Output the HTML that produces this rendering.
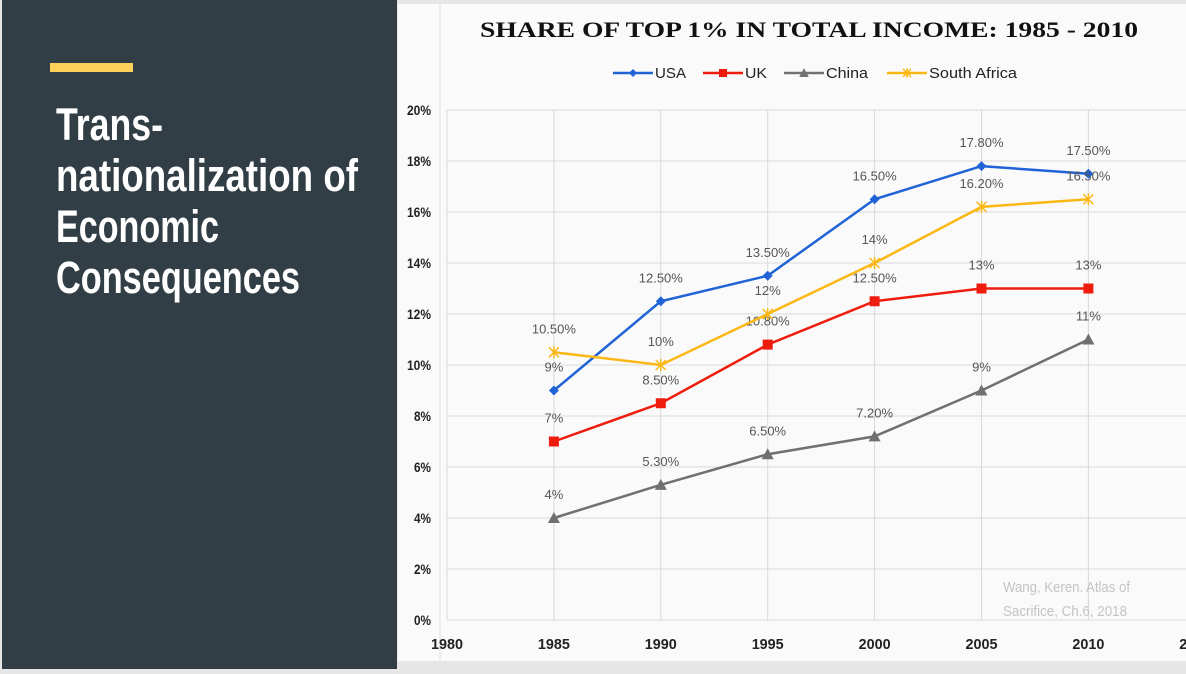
<!DOCTYPE html>
<html><head><meta charset="utf-8"><style>
html,body{margin:0;padding:0;width:1186px;height:669px;overflow:hidden;background:#e6e6e6;font-family:"Liberation Sans",sans-serif}
#left{position:absolute;left:2px;top:0;width:395px;height:669px;background:#323e46}
#chart{position:absolute;left:398px;top:0}
</style></head><body>
<div id="left">
<svg width="395" height="669">
<rect x="48" y="63" width="83" height="9" fill="#fdd05a"/>
<g font-family="Liberation Sans Narrow, Liberation Sans, sans-serif" font-weight="bold" font-size="45" fill="#fff">
<text x="54" y="140" textLength="107" lengthAdjust="spacingAndGlyphs">Trans-</text>
<text x="54" y="191" textLength="302" lengthAdjust="spacingAndGlyphs">nationalization of</text>
<text x="54" y="242" textLength="163" lengthAdjust="spacingAndGlyphs">Economic</text>
<text x="54" y="293" textLength="244" lengthAdjust="spacingAndGlyphs">Consequences</text>
</g></svg></div>
<svg id="chart" width="788" height="669"></svg>
<script>
const years=[1985,1990,1995,2000,2005,2010];
const usa=[9,12.5,13.5,16.5,17.8,17.5];
const uk=[7,8.5,10.8,12.5,13,13];
const china=[4,5.3,6.5,7.2,9,11];
const southAfrica=[10.5,10,12,14,16.2,16.5];
const seriesNames=["USA","UK","China","South Africa"];
const yTicks=[0,2,4,6,8,10,12,14,16,18,20];
const xTicks=[1980,1985,1990,1995,2000,2005,2010,2015];

const NS="http://www.w3.org/2000/svg";
const svg=document.getElementById('chart');
const OX=398;
const NARROW='Liberation Sans Narrow, Liberation Sans, sans-serif';
function X(yr){return 447-OX+(yr-1980)*21.38;}
function Y(v){return 620-v*25.5;}
function el(t,a,p){const e=document.createElementNS(NS,t);for(const k in a)e.setAttribute(k,a[k]);(p||svg).appendChild(e);return e;}
const bg=el('rect',{x:0,y:4,width:788,height:657,fill:'#fafafa'});


el('line',{x1:42,y1:4,x2:42,y2:661,stroke:'#e0e0e0'});
const title=el('text',{x:82,y:37,'font-family':'Liberation Serif, serif','font-weight':'bold','font-size':22,fill:'#111',textLength:658,lengthAdjust:'spacingAndGlyphs'});
title.textContent='SHARE OF TOP 1% IN TOTAL INCOME: 1985 - 2010';


yTicks.forEach(t=>{
  const l=el('line',{x1:X(1980),x2:788,y1:Y(t),y2:Y(t),stroke:'#d9d9d9','stroke-width':1});
  
  
  const tx=el('text',{x:33,y:Y(t)+5,'text-anchor':'end','font-size':14,'font-family':NARROW,'font-weight':'bold',fill:'#222',textLength:String(t).length*7+10,lengthAdjust:'spacingAndGlyphs'});
  tx.textContent=t+'%';
  
  
});
xTicks.forEach(t=>{
  const l=el('line',{x1:X(t),x2:X(t),y1:Y(20),y2:Y(0),stroke:'#d9d9d9','stroke-width':1});
  
  
  const tx=el('text',{x:X(t),y:649,'text-anchor':'middle','font-size':15,'font-family':NARROW,'font-weight':'bold',fill:'#222',textLength:32,lengthAdjust:'spacingAndGlyphs'});
  tx.textContent=t;
  
  
});
const colors=['#1f63d6','#ee1c0c','#707070','#fbb815'];
const data=[usa,uk,china,southAfrica];
function marker(i,x,y,g,s){
  s=s||1;const c=colors[i];
  if(i==0)return el('polygon',{points:`${x},${y-5*s} ${x+5*s},${y} ${x},${y+5*s} ${x-5*s},${y}`,fill:c},g);
  if(i==1)return el('rect',{x:x-5*s,y:y-5*s,width:10*s,height:10*s,fill:c},g);
  if(i==2)return el('polygon',{points:`${x},${y-6*s} ${x+6*s},${y+5*s} ${x-6*s},${y+5*s}`,fill:c},g);
  return el('path',{d:`M${x-5*s} ${y-5*s}L${x+5*s} ${y+5*s}M${x+5*s} ${y-5*s}L${x-5*s} ${y+5*s}M${x} ${y-6*s}L${x} ${y+6*s}`,stroke:c,'stroke-width':1.5},g);
}
function fmt(v){return Number.isInteger(v)?v+'%':v.toFixed(2)+'%';}
data.forEach((s,i)=>{
  const g=el('g',{});
  
  
  const p=el('polyline',{points:s.map((v,j)=>X(years[j])+','+Y(v)).join(' '),fill:'none',stroke:colors[i],'stroke-width':2.5},g);
  
  
  s.forEach((v,j)=>{
    const m=marker(i,X(years[j]),Y(v),g);
    
    
    const t=el('text',{x:X(years[j]),y:Y(v)-19,'text-anchor':'middle','font-size':13,fill:'#555'},g);
    t.textContent=fmt(v);
    
    
  });
});
const lx=[215,305,386,489];
const lw=[31,22,42,88];
seriesNames.forEach((n,i)=>{
  const g=el('g',{});
  
  
  el('line',{x1:lx[i],x2:lx[i]+40,y1:73,y2:73,stroke:colors[i],'stroke-width':2.5},g);
  marker(i,lx[i]+20,73,g,0.8);
  const t=el('text',{x:lx[i]+42,y:78,'font-size':15,'font-family':NARROW,fill:'#222',textLength:lw[i],lengthAdjust:'spacingAndGlyphs'},g);
  t.textContent=n;
});
const src=el('text',{x:605,y:592,'font-size':15,'font-family':NARROW,fill:'#c4c4c4',textLength:127,lengthAdjust:'spacingAndGlyphs'});
src.textContent='Wang, Keren. Atlas of';


const src2=el('text',{x:605,y:616,'font-size':15,'font-family':NARROW,fill:'#c4c4c4',textLength:124,lengthAdjust:'spacingAndGlyphs'});
src2.textContent='Sacrifice, Ch.6, 2018';


</script>
</body></html>
